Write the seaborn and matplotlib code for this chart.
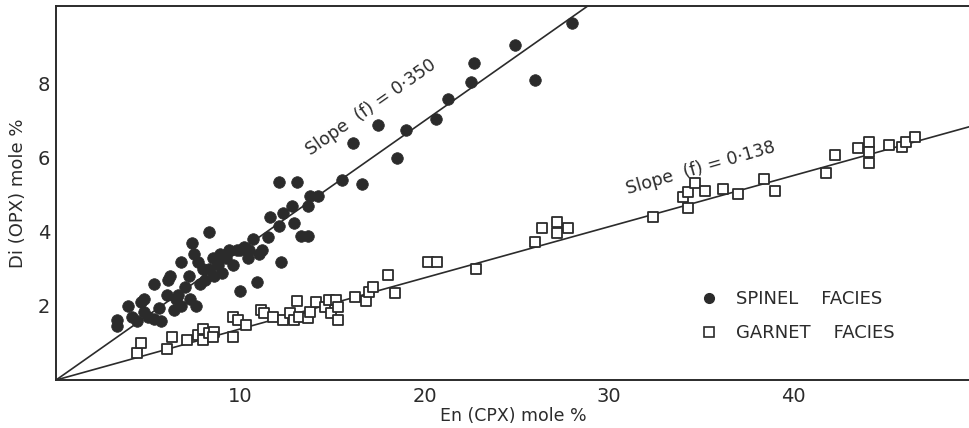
import numpy as np
import pandas as pd
import matplotlib
matplotlib.use("Agg")
import matplotlib.pyplot as plt
import seaborn as sns
from matplotlib.lines import Line2D

sns.set_theme(style="white")
plt.rcParams['font.family'] = ['DejaVu Sans']

# ---- data ----
spinel_en = [3.3, 3.3, 3.9, 4.1, 4.4, 4.6, 4.8, 4.8, 5.0, 5.3, 5.3, 5.6, 5.7, 6.0, 6.1, 6.2,
             6.4, 6.5, 6.6, 6.8, 6.8, 7.0, 7.2, 7.3, 7.4, 7.5, 7.6, 7.7, 7.8, 8.0, 8.1, 8.3,
             8.3, 8.5, 8.6, 8.8, 8.9, 9.0, 9.2, 9.4, 9.6, 9.8, 10.0, 10.0, 10.2, 10.4, 10.5,
             10.7, 10.9, 11.0, 11.2, 11.5, 11.6, 12.1, 12.2, 12.3, 12.1, 12.8, 12.9, 13.1,
             13.3, 13.7, 13.7, 13.8, 14.2, 15.5, 16.1, 16.6, 17.5, 18.5, 19.0, 20.6, 21.3,
             22.5, 22.7, 24.9, 26.0, 28.0]
spinel_di = [1.45, 1.62, 2.0, 1.7, 1.6, 2.1, 2.2, 1.85, 1.7, 1.65, 2.6, 1.95, 1.6, 2.3, 2.7, 2.8,
             1.9, 2.2, 2.3, 3.2, 2.0, 2.5, 2.8, 2.2, 3.7, 3.4, 2.0, 3.2, 2.6, 3.0, 2.7, 4.0,
             3.0, 3.3, 2.8, 3.1, 3.4, 2.9, 3.3, 3.5, 3.1, 3.5, 3.5, 2.4, 3.6, 3.3, 3.5,
             3.8, 2.65, 3.4, 3.5, 3.85, 4.4, 4.15, 3.2, 4.5, 5.35, 4.7, 4.25, 5.35,
             3.9, 3.9, 4.7, 4.97, 4.97, 5.4, 6.4, 5.3, 6.9, 6.0, 6.75, 7.05, 7.6,
             8.05, 8.55, 9.05, 8.1, 9.65]

garnet_en = [4.4, 4.6, 6.0, 6.3, 7.1, 7.7, 8.0, 8.0, 8.3, 8.6, 8.5, 9.6, 9.6, 9.9, 10.3,
             11.1, 11.3, 11.8, 12.3, 12.7, 12.9, 13.2, 13.1, 13.7, 13.8, 14.1, 14.6, 14.8,
             14.9, 15.2, 15.3, 15.3, 16.2, 16.8, 17.0, 17.2, 18.0, 18.4, 20.2, 20.7,
             22.8, 26.0, 26.4, 27.2, 27.2, 27.8, 32.4, 34.0, 34.3, 34.3, 34.7, 35.2,
             36.2, 37.0, 38.4, 39.0, 41.8, 42.3, 43.5, 44.1, 44.1, 44.1, 45.2, 45.9,
             46.1, 46.6]
garnet_di = [0.73, 1.0, 0.84, 1.16, 1.08, 1.22, 1.38, 1.08, 1.27, 1.3, 1.16, 1.16, 1.7, 1.62, 1.49,
             1.89, 1.8, 1.7, 1.62, 1.8, 1.62, 1.7, 2.13, 1.67, 1.84, 2.1, 1.97, 2.16,
             1.8, 2.16, 1.97, 1.62, 2.25, 2.13, 2.38, 2.51, 2.84, 2.35, 3.19, 3.19,
             3.0, 3.73, 4.1, 4.27, 3.97, 4.1, 4.4, 4.95, 4.65, 5.08, 5.32, 5.1,
             5.16, 5.03, 5.43, 5.1, 5.6, 6.08, 6.27, 6.43, 6.16, 5.86, 6.35, 6.3,
             6.43, 6.57]

slopes = [0.350, 0.138]
slope_labels = ["Slope  (f) = 0·350", "Slope  (f) = 0·138"]
facies = ["SPINEL    FACIES", "GARNET    FACIES"]
x_ticks = [10, 20, 30, 40]
y_ticks = [2, 4, 6, 8]

ink = "#2b2b2b"
XMAX, YMAX = 49.6, 10.1

df = pd.DataFrame({
    "En": spinel_en + garnet_en,
    "Di": spinel_di + garnet_di,
    "facies": [facies[0]] * len(spinel_en) + [facies[1]] * len(garnet_en),
})

fig = plt.figure(figsize=(9.7, 4.28), dpi=100)
ax = fig.add_axes([0.0577, 0.112, 0.9423, 0.874])

# fit lines through origin
xl = np.array([0.0, XMAX])
for s in slopes:
    sns.lineplot(x=xl, y=s * xl, ax=ax, color=ink, lw=1.2, zorder=1)

sns.scatterplot(data=df[df.facies == facies[0]], x="En", y="Di", ax=ax,
                marker="o", s=70, color=ink, edgecolor=ink, linewidth=0.5,
                zorder=3, legend=False)
sns.scatterplot(data=df[df.facies == facies[1]], x="En", y="Di", ax=ax,
                marker="s", s=62, facecolor="white", edgecolor=ink, linewidth=1.3,
                zorder=3, legend=False)

ax.set_xlim(0, XMAX)
ax.set_ylim(0, YMAX)
ax.set_xticks(x_ticks)
ax.set_xticks([5, 15, 25, 35, 45], minor=True)
ax.set_yticks(y_ticks)
ax.set_xticklabels([str(t) for t in x_ticks])
ax.set_yticklabels([str(t) for t in y_ticks])
ax.tick_params(axis="both", which="both", direction="in", length=5, width=1.2,
               color=ink, labelcolor=ink, labelsize=14, pad=4)
ax.tick_params(axis="x", pad=5)

for side in ["left", "bottom", "top"]:
    ax.spines[side].set_color(ink)
    ax.spines[side].set_linewidth(1.4)
ax.spines["right"].set_visible(False)

ax.set_xlabel("En (CPX) mole %", fontsize=12.5, color=ink, labelpad=1)
ax.set_ylabel("Di (OPX) mole %", fontsize=13, color=ink, labelpad=8)

# slope labels
ax.text(17.1, 7.35, slope_labels[0], rotation=35, rotation_mode="anchor",
        ha="center", va="center", fontsize=12.5, color=ink)
ax.text(35.0, 5.73, slope_labels[1], rotation=16, rotation_mode="anchor",
        ha="center", va="center", fontsize=12.5, color=ink)

handles = [
    Line2D([], [], marker="o", ls="", color=ink, markersize=7),
    Line2D([], [], marker="s", ls="", markerfacecolor="white", markeredgecolor=ink,
           markeredgewidth=1.2, markersize=7),
]
leg = ax.legend(handles, facies, loc="upper left", bbox_to_anchor=(0.705, 0.36),
                bbox_transform=fig.transFigure, frameon=False, fontsize=13,
                handletextpad=1.0, labelspacing=0.9, handlelength=1.0)
for t in leg.get_texts():
    t.set_color(ink)

fig.savefig("out.png", dpi=100)
